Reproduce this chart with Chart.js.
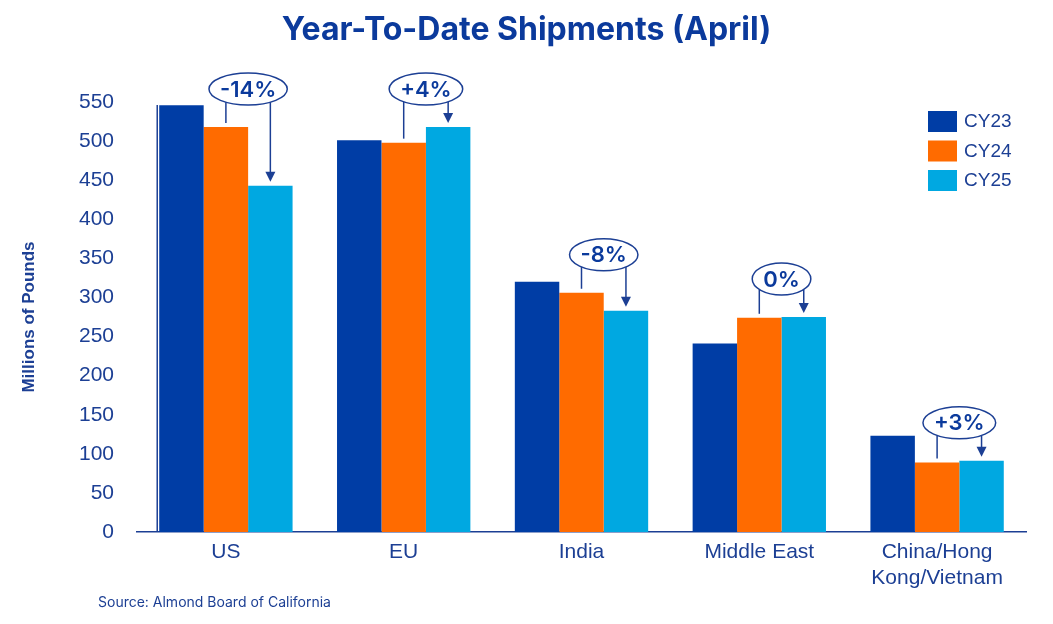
<!DOCTYPE html>
<html>
<head>
<meta charset="utf-8">
<title>Year-To-Date Shipments (April)</title>
<script src="https://cdn.jsdelivr.net/npm/chart.js@4.4.1/dist/chart.umd.min.js"></script>
<style>
    html, body { margin: 0; padding: 0; background: #fff; }
    #wrap { width: 1053px; height: 624px; }
</style>
</head>
<body>
<div id="wrap"><canvas id="chart-bars" width="1053" height="624"></canvas></div>
<script>
const categories = ['US', 'EU', 'India', 'Middle East', ['China/Hong', 'Kong/Vietnam']];
const seriesNames = ['CY23', 'CY24', 'CY25'];
const cy23 = [546, 501, 320, 241, 123];
const cy24 = [518, 498, 306, 274, 89];
const cy25 = [443, 518, 283, 275, 91];
const changeLabels = ['-14%', '+4%', '-8%', '0%', '+3%'];
const yMin = 0;
const yMax = 550;
const yStep = 50;

const navy = '#1C3F94';
const titleBlue = '#0B3A9C';
const colors = ['#003DA5', '#FF6B00', '#00A8E1'];
const headFont = 'Inter, Roboto, "Noto Sans", sans-serif';
const bodyFont = '"Liberation Sans", Arimo, Arial, sans-serif';

// title, source, legend, y axis line and the % change callouts
const extras = {
    id: 'extras',
    afterDraw(chart) {
        const ctx = chart.ctx;
        const area = chart.chartArea;
        const yScale = chart.scales.y;
        ctx.save();

        // title
        ctx.fillStyle = titleBlue;
        ctx.font = '700 32px ' + headFont;
        ctx.textAlign = 'center';
        ctx.textBaseline = 'middle';
        ctx.fillText('Year-To-Date Shipments (April)', chart.width / 2, 30);

        // source
        ctx.fillStyle = navy;
        ctx.font = '14px ' + headFont;
        ctx.textAlign = 'left';
        ctx.fillText('Source: Almond Board of California', 98, 603);

        // vertical axis line, just left of the first bar
        const first = chart.getDatasetMeta(0).data[0];
        const axisX = first.x - first.width / 2 - 2;
        ctx.strokeStyle = navy;
        ctx.lineWidth = 1.5;
        ctx.beginPath();
        ctx.moveTo(axisX, area.bottom);
        ctx.lineTo(axisX, yScale.getPixelForValue(yMax) + 3);
        ctx.stroke();

        // legend
        ctx.font = '19px ' + bodyFont;
        chart.data.datasets.forEach((ds, i) => {
            const lx = area.right - 98;
            const ly = area.top + 9 + i * 29.5;
            ctx.fillStyle = ds.backgroundColor;
            ctx.fillRect(lx, ly, 29, 21);
            ctx.fillStyle = navy;
            ctx.fillText(ds.label, lx + 36, ly + 11);
        });

        // callouts
        const m24 = chart.getDatasetMeta(1).data;
        const m25 = chart.getDatasetMeta(2).data;
        ctx.font = '600 22px ' + headFont;
        changeLabels.forEach((txt, i) => {
            const b24 = m24[i];
            const b25 = m25[i];
            const cx = (b24.x + b25.x) / 2;
            const cy = Math.min(b24.y, b25.y) - 38;
            const rx = ctx.measureText(txt).width / 2 + 11;
            const ry = 16;
            const edge = (x) => {
                const d = (x - cx) / rx;
                return cy + ry * Math.sqrt(Math.max(0, 1 - d * d));
            };

            ctx.strokeStyle = navy;
            ctx.lineWidth = 1.5;
            // from CY24 bar up to the ellipse
            ctx.beginPath();
            ctx.moveTo(b24.x, edge(b24.x));
            ctx.lineTo(b24.x, b24.y - 4);
            ctx.stroke();
            // from the ellipse down to CY25 bar, with arrow
            const tip = b25.y - 4;
            ctx.beginPath();
            ctx.moveTo(b25.x, edge(b25.x));
            ctx.lineTo(b25.x, tip - 8);
            ctx.stroke();
            ctx.fillStyle = navy;
            ctx.beginPath();
            ctx.moveTo(b25.x, tip);
            ctx.lineTo(b25.x - 5, tip - 10);
            ctx.lineTo(b25.x + 5, tip - 10);
            ctx.closePath();
            ctx.fill();

            ctx.fillStyle = '#fff';
            ctx.beginPath();
            ctx.ellipse(cx, cy, rx, ry, 0, 0, Math.PI * 2);
            ctx.fill();
            ctx.stroke();
            ctx.fillStyle = titleBlue;
            ctx.textAlign = 'center';
            ctx.fillText(txt, cx, cy + 1);
        });

        ctx.restore();
    }
};

new Chart(document.getElementById('chart-bars'), {
    type: 'bar',
    data: {
        labels: categories,
        datasets: [cy23, cy24, cy25].map((d, i) => ({
            label: seriesNames[i],
            data: d,
            backgroundColor: colors[i],
            borderWidth: 0,
            categoryPercentage: 0.75,
            barPercentage: 1.0
        }))
    },
    options: {
        responsive: false,
        animation: false,
        devicePixelRatio: 1,
        layout: {
            padding: { top: 102, right: 27, bottom: 0, left: 0 }
        },
        plugins: {
            legend: { display: false },
            title: { display: false },
            tooltip: { enabled: false }
        },
        scales: {
            x: {
                grid: { display: false, drawTicks: false },
                border: { display: true, color: navy, width: 1.5 },
                ticks: {
                    color: navy,
                    padding: 8,
                    maxRotation: 0,
                    autoSkip: false,
                    font: { size: 21, family: bodyFont, lineHeight: 1.2 }
                },
                afterFit(scale) { scale.height = 92; }
            },
            y: {
                min: yMin,
                max: yMax,
                grid: { display: false, drawTicks: false },
                border: { display: false },
                ticks: {
                    stepSize: yStep,
                    color: navy,
                    padding: 23,
                    font: { size: 21, family: bodyFont }
                },
                title: {
                    display: true,
                    text: 'Millions of Pounds',
                    color: navy,
                    padding: { top: 19, bottom: 0 },
                    font: { size: 17, weight: 'bold', family: bodyFont, lineHeight: 1.2 }
                },
                afterFit(scale) { scale.width = 137; }
            }
        }
    },
    plugins: [extras]
});
</script>
</body>
</html>
